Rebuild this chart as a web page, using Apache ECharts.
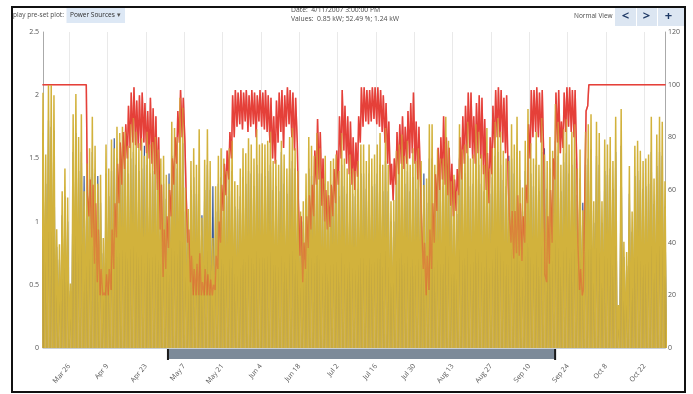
<!DOCTYPE html>
<html><head><meta charset="utf-8">
<script src="https://cdn.jsdelivr.net/npm/echarts@6/dist/echarts.min.js"></script>
<style>html,body{margin:0;padding:0;background:#fff}#c{width:693px;height:394px}</style>
</head><body><div id="c"></div>
<script>
// Days counted from Mar 16, 2007 (day 0). Each value is one day.
const tickDays = [10, 24, 38, 52, 66, 80, 94, 108, 122, 136, 150, 164, 178, 192, 206, 220];
const tickLabels = ['Mar 26', 'Apr 9', 'Apr 23', 'May 7', 'May 21', 'Jun 4', 'Jun 18', 'Jul 2',
  'Jul 16', 'Jul 30', 'Aug 13', 'Aug 27', 'Sep 10', 'Sep 24', 'Oct 8', 'Oct 22'];

// yellow series: daily peak power, kW
const pvPeak = [
  2.02, 1.53, 2.08, 2.08, 2.00, 0.94, 0.82, 1.24, 1.42, 1.19,
  0.51, 1.85, 2.01, 1.67, 1.85, 1.24, 1.46, 1.58, 1.83, 1.60,
  1.30, 1.37, 0.87, 1.61, 1.42, 1.65, 1.58, 1.75, 1.70, 1.75,
  1.71, 1.60, 1.77, 1.82, 1.71, 1.62, 1.66, 1.52, 1.71, 1.61,
  1.63, 1.67, 1.57, 1.50, 1.52, 1.37, 1.30, 1.79, 1.74, 1.67,
  1.98, 1.90, 1.27, 1.10, 1.48, 1.58, 1.45, 1.73, 1.03, 1.49,
  1.73, 1.48, 0.87, 1.28, 1.52, 1.58, 1.50, 1.40, 1.58, 1.64,
  1.32, 1.29, 1.42, 1.58, 1.54, 1.66, 1.61, 1.50, 1.73, 1.61,
  1.62, 1.61, 1.64, 1.71, 1.48, 1.49, 1.45, 1.64, 1.53, 1.42,
  1.67, 1.74, 1.58, 1.40, 1.08, 1.16, 1.38, 1.67, 1.60, 1.52,
  1.70, 1.58, 1.34, 1.52, 1.32, 1.48, 1.50, 1.53, 1.40, 1.70,
  1.50, 1.42, 1.53, 1.42, 1.40, 1.48, 1.61, 1.61, 1.48, 1.61,
  1.50, 1.53, 1.61, 1.70, 1.45, 1.74, 1.45, 1.16, 1.17, 1.56,
  1.61, 1.69, 1.52, 1.64, 1.45, 1.58, 1.48, 1.58, 1.48, 1.29,
  1.34, 1.77, 1.77, 1.45, 1.57, 1.50, 1.50, 1.83, 1.64, 1.32,
  1.37, 1.24, 1.77, 1.57, 1.61, 1.79, 1.50, 1.53, 1.77, 1.71,
  1.53, 1.45, 1.74, 1.42, 1.58, 1.79, 1.82, 1.71, 1.56, 1.50,
  1.48, 1.77, 1.61, 1.83, 1.56, 1.27, 1.64, 1.89, 1.62, 1.50,
  1.71, 1.45, 1.82, 1.53, 1.48, 1.67, 1.56, 1.93, 1.79, 1.45,
  1.73, 1.81, 1.61, 1.71, 1.77, 1.42, 1.57, 1.09, 1.71, 1.77,
  1.85, 1.16, 1.79, 1.70, 1.16, 1.65, 1.61, 1.67, 1.48, 1.83,
  0.34, 1.89, 0.84, 0.76, 1.44, 1.08, 1.60, 1.64, 1.56, 1.48,
  1.50, 1.53, 1.83, 1.34, 1.69, 1.83, 1.79, 1.32
];

// blue series: daily peak power, kW
const bluePeak = [
  1.70, 1.30, 1.80, 1.75, 1.72, 0.80, 0.70, 1.05, 1.20, 1.00,
  0.45, 1.55, 1.70, 1.40, 1.55, 1.36, 1.25, 1.35, 1.55, 1.38,
  1.36, 1.15, 0.75, 1.38, 1.20, 1.40, 1.66, 1.50, 1.45, 1.48,
  1.45, 1.38, 1.50, 1.55, 1.45, 1.40, 1.42, 1.60, 1.45, 1.38,
  1.40, 1.42, 1.35, 1.30, 1.30, 1.18, 1.38, 1.52, 1.48, 1.42,
  1.68, 1.62, 1.08, 0.95, 1.25, 1.35, 1.22, 1.10, 1.05, 1.25,
  1.45, 1.25, 1.28, 1.08, 1.30, 1.35, 1.28, 1.20, 1.35, 1.40,
  1.12, 1.10, 1.20, 1.35, 1.30, 1.40, 1.38, 1.28, 1.45, 1.38,
  1.38, 1.36, 1.40, 1.45, 1.25, 1.28, 1.24, 1.55, 1.30, 1.22,
  1.42, 1.48, 1.42, 1.20, 0.92, 1.00, 1.18, 1.42, 1.36, 1.30,
  1.45, 1.55, 1.15, 1.30, 1.12, 1.26, 1.28, 1.30, 1.20, 1.45,
  1.28, 1.22, 1.30, 1.22, 1.20, 1.26, 1.38, 1.38, 1.26, 1.38,
  1.28, 1.30, 1.38, 1.45, 1.24, 1.48, 1.24, 1.00, 1.00, 1.33,
  1.38, 1.44, 1.30, 1.40, 1.24, 1.35, 1.26, 1.35, 1.26, 1.38,
  1.15, 1.50, 1.50, 1.24, 1.34, 1.28, 1.28, 1.55, 1.40, 1.12,
  1.18, 1.06, 1.50, 1.34, 1.38, 1.52, 1.28, 1.30, 1.50, 1.45,
  1.30, 1.24, 1.48, 1.22, 1.35, 1.52, 1.55, 1.45, 1.33, 1.28,
  1.52, 1.50, 1.38, 1.55, 1.33, 1.08, 1.40, 1.60, 1.38, 1.28,
  1.45, 1.24, 1.55, 1.58, 1.26, 1.42, 1.33, 1.64, 1.52, 1.24,
  1.47, 1.54, 1.38, 1.45, 1.50, 1.21, 1.34, 1.15, 1.45, 1.50,
  1.57, 0.99, 1.52, 1.45, 0.99, 1.40, 1.37, 1.42, 1.26, 1.55,
  0.29, 1.60, 0.72, 0.65, 1.22, 0.92, 1.36, 1.40, 1.33, 1.26,
  1.28, 1.30, 1.55, 1.14, 1.44, 1.55, 1.52, 1.12
];

// red series: battery state of charge, %, morning and afternoon reading of each day
const socMorning = [
  100, 100, 100, 100, 100, 100, 100, 100, 100, 100,
  100, 100, 100, 100, 100, 100, 100, 50, 42, 32,
  25, 20, 20, 20, 20, 22, 30, 42, 55, 62,
  68, 72, 76, 78, 77, 76, 75, 78, 74, 72,
  70, 66, 60, 45, 27, 30, 38, 50, 62, 70,
  78, 80, 78, 40, 25, 20, 20, 20, 20, 20,
  20, 20, 20, 22, 30, 40, 52, 58, 64, 72,
  80, 84, 85, 83, 86, 82, 84, 85, 80, 86,
  84, 83, 82, 78, 72, 70, 78, 82, 76, 84,
  85, 80, 75, 78, 35, 25, 30, 38, 45, 50,
  62, 64, 54, 48, 45, 46, 50, 55, 62, 72,
  75, 70, 66, 62, 60, 65, 78, 84, 86, 85,
  86, 87, 85, 84, 82, 78, 70, 62, 56, 62,
  66, 70, 68, 70, 72, 74, 70, 64, 62, 30,
  20, 22, 30, 40, 52, 60, 64, 62, 58, 54,
  50, 52, 58, 64, 70, 74, 76, 72, 70, 74,
  72, 66, 60, 55, 66, 76, 80, 80, 78, 74,
  62, 40, 34, 36, 35, 33, 40, 55, 72, 80,
  82, 80, 78, 70, 25, 32, 40, 64, 78, 74,
  76, 82, 84, 82, 80, 70, 22, 20, 22, 92,
  100, 100, 100, 100, 100, 100, 100, 100, 100, 100,
  100, 100, 100, 100, 100, 100, 100, 100, 100, 100,
  100, 100, 100, 100, 100, 100, 100, 100
];
const socAfternoon = [
  100, 100, 100, 100, 100, 100, 100, 100, 100, 100,
  100, 100, 100, 100, 100, 100, 58, 64, 62, 55,
  45, 30, 21, 28, 30, 45, 55, 70, 78, 82,
  85, 92, 97, 99, 94, 96, 97, 93, 90, 95,
  91, 88, 80, 62, 45, 50, 60, 72, 80, 90,
  98, 95, 60, 45, 35, 30, 32, 36, 25, 30,
  28, 26, 24, 35, 48, 62, 70, 75, 82, 96,
  98, 97, 98, 97, 98, 96, 98, 97, 96, 98,
  97, 98, 96, 95, 88, 94, 97, 98, 96, 99,
  98, 97, 95, 55, 50, 40, 50, 58, 62, 75,
  87, 82, 72, 60, 58, 62, 68, 75, 88, 98,
  92, 88, 86, 80, 78, 88, 99, 99, 98, 98,
  99, 99, 99, 98, 96, 93, 86, 70, 72, 82,
  85, 88, 84, 90, 93, 97, 86, 84, 45, 40,
  35, 45, 55, 66, 76, 80, 88, 80, 76, 70,
  64, 68, 80, 88, 92, 97, 97, 88, 93, 96,
  95, 87, 74, 80, 92, 98, 99, 98, 95, 96,
  50, 52, 52, 58, 55, 50, 62, 85, 98, 98,
  99, 97, 98, 28, 50, 60, 72, 97, 98, 86,
  97, 99, 99, 98, 98, 40, 30, 22, 90, 100,
  100, 100, 100, 100, 100, 100, 100, 100, 100, 100,
  100, 100, 100, 100, 100, 100, 100, 100, 100, 100,
  100, 100, 100, 100, 100, 100, 100, 100
];

// visible range of the navigator bar, in days
const navRange = [46.1, 187.4];

function dailySpikes(arr) {
  const out = [];
  arr.forEach(function (v, d) { out.push([d, 0]); out.push([d + 0.5, v]); });
  out.push([arr.length, 0]);
  return out;
}
function socSeries() {
  const out = [];
  socMorning.forEach(function (v, d) {
    out.push([d + 0.3, v]);
    out.push([d + 0.7, socAfternoon[d]]);
  });
  return out;
}

const FONT = 'Open Sans';
const socData = socSeries();
const chart = echarts.init(document.getElementById('c'), null, { renderer: 'canvas' });
const option = {
  animation: false,
  backgroundColor: '#ffffff',
  textStyle: { fontFamily: FONT },
  grid: { left: 43, right: 28, top: 32, bottom: 46 },
  xAxis: {
    type: 'value', min: 0.5, max: 227.5, offset: 13,
    axisLine: { show: true, lineStyle: { color: '#c9ced4', width: 1 } },
    axisTick: { show: false, customValues: tickDays },
    splitLine: { show: true, lineStyle: { color: '#e9e9e9', width: 1 } },
    axisLabel: {
      customValues: tickDays, rotate: 50, fontSize: 7, color: '#555', margin: 4, fontFamily: FONT,
      formatter: function (v) { const i = tickDays.indexOf(Math.round(v)); return i >= 0 ? tickLabels[i] : ''; }
    }
  },
  yAxis: [
    {
      type: 'value', min: 0, max: 2.5, interval: 0.5, position: 'left',
      axisLine: { show: true, lineStyle: { color: '#aaaaaa' } },
      axisTick: { show: false }, splitLine: { show: false },
      axisLabel: { fontSize: 7, color: '#555', margin: 4, fontFamily: FONT }
    },
    {
      type: 'value', min: 0, max: 120, interval: 20, position: 'right',
      axisLine: { show: true, lineStyle: { color: '#aaaaaa' } },
      axisTick: { show: false }, splitLine: { show: false },
      axisLabel: { fontSize: 7, color: '#555', margin: 3, fontFamily: FONT }
    }
  ],
  series: [
    {
      type: 'line', name: 'kW (blue)', data: dailySpikes(bluePeak), yAxisIndex: 0,
      showSymbol: false, silent: true, z: 1,
      lineStyle: { color: '#3d5b98', width: 1.2 }
    },
    {
      type: 'line', name: '%', data: socData, yAxisIndex: 1,
      showSymbol: false, silent: true, z: 2,
      lineStyle: { color: '#e5403a', width: 1.5 }
    },
    {
      type: 'line', name: 'kW', data: dailySpikes(pvPeak), yAxisIndex: 0,
      showSymbol: false, silent: true, z: 3,
      lineStyle: { color: '#d2b23c', width: 1.5 },
      areaStyle: { color: 'rgba(186,146,26,1)', origin: 'start' }
    },
    {
      type: 'line', name: '% (overlay)', data: socData, yAxisIndex: 1,
      showSymbol: false, silent: true, z: 4,
      lineStyle: { color: '#e5403a', width: 1.4, opacity: 0.4 }
    }
  ]
};
chart.setOption(option);

const nx0 = chart.convertToPixel({ xAxisIndex: 0 }, navRange[0]);
const nx1 = chart.convertToPixel({ xAxisIndex: 0 }, navRange[1]);

const txt = function (x, y, s, size, color, extra) {
  return Object.assign({ type: 'text', x: x, y: y, z: 50,
    style: Object.assign({ text: s, fontSize: size, fill: color, fontFamily: FONT, verticalAlign: 'middle' }, extra || {}) });
};
chart.setOption({
  graphic: [
    // navigator bar
    { type: 'rect', z: 40, shape: { x: nx0, y: 349, width: nx1 - nx0, height: 10 }, style: { fill: '#7c8a99' } },
    { type: 'rect', z: 41, shape: { x: nx0 - 1, y: 349, width: 2, height: 11 }, style: { fill: '#1a1a1a' } },
    { type: 'rect', z: 41, shape: { x: nx1 - 1, y: 349, width: 2, height: 11 }, style: { fill: '#1a1a1a' } },
    // header controls
    txt(13, 15.5, 'play pre-set plot:', 6.5, '#4a4a4a'),
    { type: 'rect', z: 45, shape: { x: 66.5, y: 7.5, width: 58.5, height: 15.5 }, style: { fill: '#dde8f5' } },
    txt(70, 15.5, 'Power Sources', 6.5, '#2d2d2d'),
    txt(117, 15.5, '\u25BE', 6.5, '#555'),
    txt(291, 10.5, 'Date:  4/11/2007 3:00:00 PM', 6.8, '#4a4a4a'),
    txt(291, 19.5, 'Values:  0.85 kW; 52.49 %; 1.24 kW', 6.8, '#4a4a4a'),
    txt(574, 16, 'Normal View', 6.5, '#4a4a4a'),
    { type: 'rect', z: 45, shape: { x: 615, y: 8, width: 21, height: 18 }, style: { fill: '#dce6f2' } },
    { type: 'rect', z: 45, shape: { x: 637, y: 8, width: 20, height: 18 }, style: { fill: '#dce6f2' } },
    { type: 'rect', z: 45, shape: { x: 658, y: 8, width: 27, height: 18 }, style: { fill: '#dce6f2' } },
    txt(625.5, 16.5, '<', 13, '#1f3a66', { fontWeight: 'bold', align: 'center' }),
    txt(646.5, 16.5, '>', 13, '#1f3a66', { fontWeight: 'bold', align: 'center' }),
    txt(668.5, 16.5, '+', 13, '#1f3a66', { fontWeight: 'bold', align: 'center' }),
    // outer frame
    { type: 'rect', z: 60, shape: { x: 12, y: 7, width: 673, height: 385 }, style: { fill: 'none', stroke: '#111', lineWidth: 2 } }
  ]
});
</script></body></html>
